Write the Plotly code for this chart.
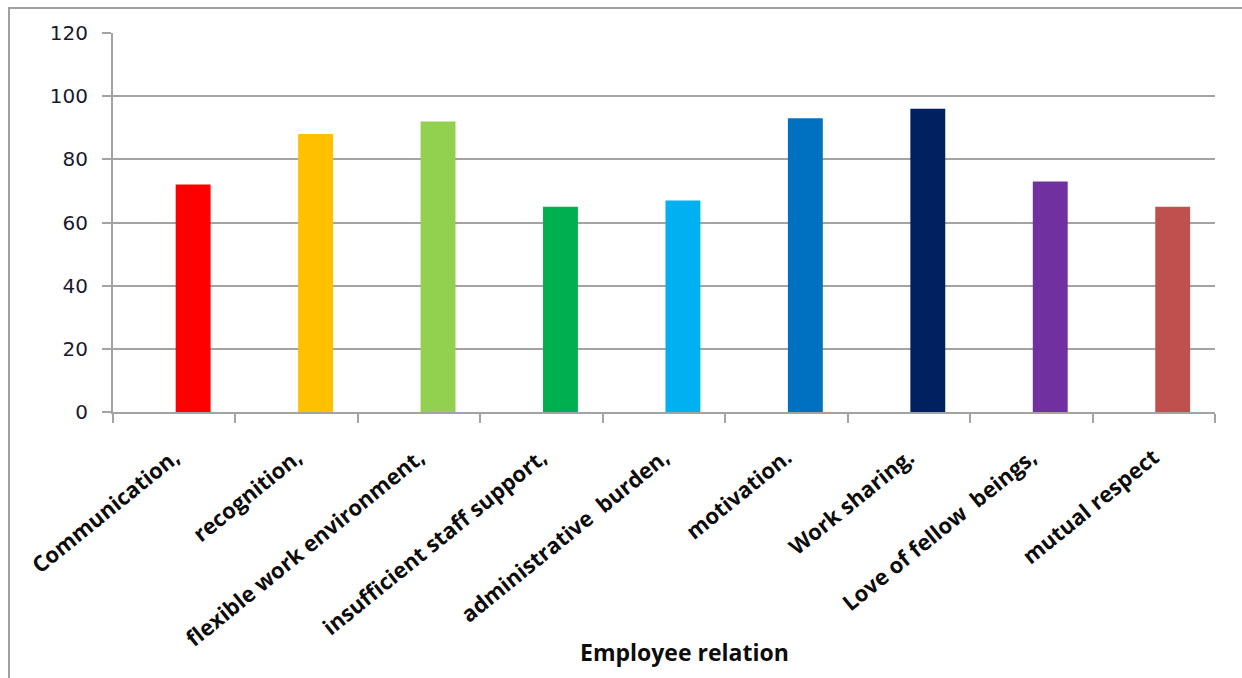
import plotly.graph_objects as go

# Employee relation factors and their scores
categories = [
    "Communication,",
    "recognition,",
    "flexible work environment,",
    "insufficient staff support,",
    "administrative  burden,",
    "motivation.",
    "Work sharing.",
    "Love of fellow  beings,",
    "mutual respect",
]
scores = [72, 88, 92, 65, 67, 93, 96, 73, 65]
bar_colors = [
    "#FF0000", "#FFC000", "#92D050", "#00B050", "#00B0F0",
    "#0070C0", "#002060", "#7030A0", "#C0504D",
]
y_ticks = [0, 20, 40, 60, 80, 100, 120]

W, H = 1242, 678
ML, MR, MT, MB = 113, 27, 33, 266
plot_w = W - ML - MR
plot_h = H - MT - MB

grid_col = "#a3a3a3"

fig = go.Figure(
    go.Bar(
        x=categories,
        y=scores,
        marker=dict(color=bar_colors, line=dict(width=0)),
        width=0.285,
        offset=0.012,
    )
)

fig.update_layout(
    width=W,
    height=H,
    margin=dict(l=ML, r=MR, t=MT, b=MB),
    paper_bgcolor="white",
    plot_bgcolor="white",
    showlegend=False,
)

fig.update_xaxes(
    type="category",
    showline=True,
    linecolor=grid_col,
    linewidth=2,
    ticks="outside",
    tickson="boundaries",
    ticklen=9,
    tickwidth=2,
    tickcolor=grid_col,
    tickangle=-39,
    ticklabelstandoff=22,
    tickfont=dict(family="Open Sans", size=22, color="#0d0d0d", weight="bold"),
    showgrid=False,
)

fig.update_yaxes(
    range=[0, 120],
    tickvals=y_ticks,
    showline=True,
    linecolor=grid_col,
    linewidth=2,
    showgrid=True,
    gridcolor=grid_col,
    gridwidth=2,
    zeroline=False,
    ticks="outside",
    ticklen=9,
    tickwidth=2,
    tickcolor=grid_col,
    ticklabelstandoff=10,
    tickfont=dict(family="DejaVu Sans", size=20, color="#1a1a2e"),
)

# Axis title placed below the slanted category labels
fig.add_annotation(
    text="<b>Employee relation</b>",
    xref="paper", yref="paper",
    x=(684 - ML) / plot_w, y=(MT + plot_h - 652) / plot_h,
    xanchor="center", yanchor="middle",
    showarrow=False,
    font=dict(family="Open Sans", size=23, color="#0d0d0d"),
)

# Chart-area frame
fig.add_shape(
    type="rect",
    xref="paper", yref="paper",
    x0=(9 - ML) / plot_w, x1=(W + 20 - ML) / plot_w,
    y0=(MT + plot_h - (H + 20)) / plot_h, y1=(MT + plot_h - 8) / plot_h,
    line=dict(color="#a0a0a0", width=2),
    fillcolor="rgba(0,0,0,0)",
    layer="below",
)

fig.write_html("out.html")
